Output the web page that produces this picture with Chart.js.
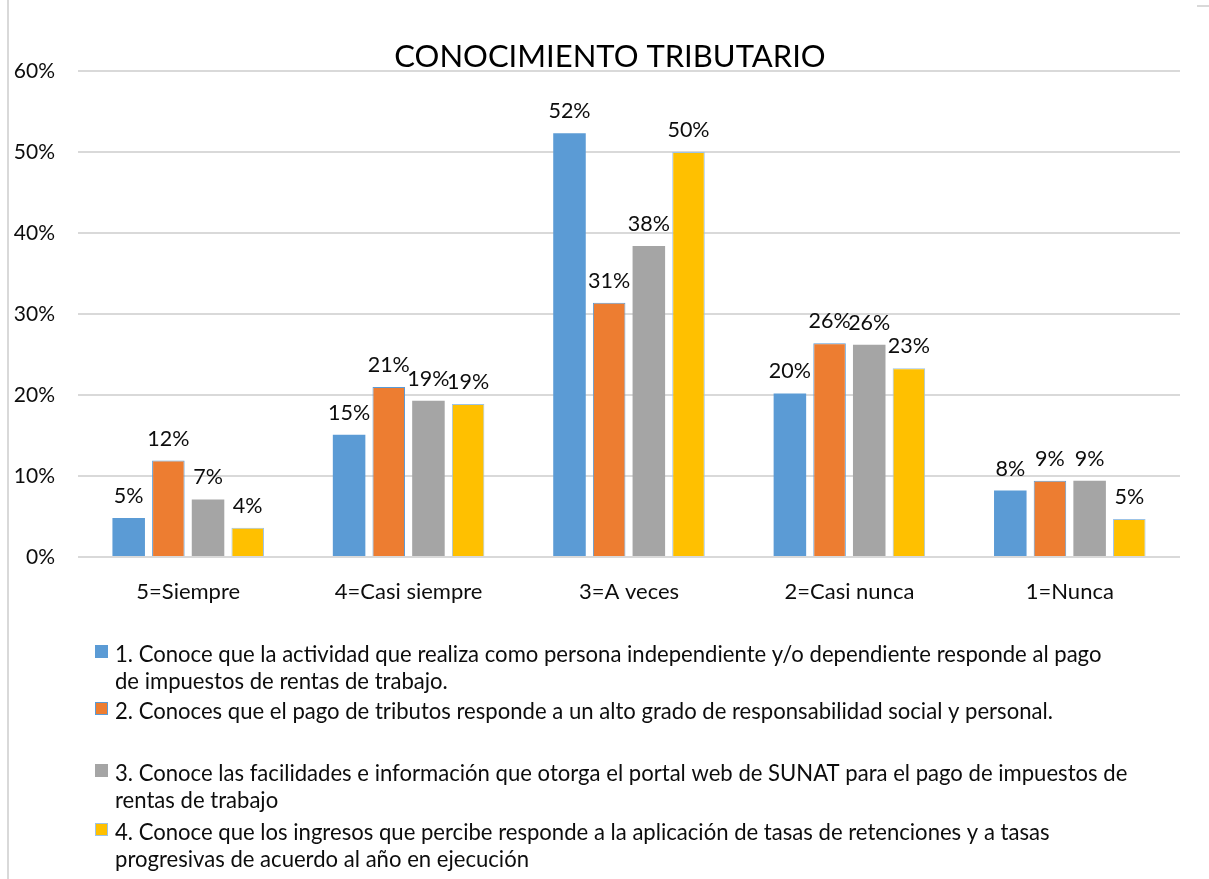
<!DOCTYPE html>
<html><head><meta charset="utf-8">
<script src="https://cdn.jsdelivr.net/npm/chart.js@4.4.1/dist/chart.umd.min.js"></script>
<style>
html,body{margin:0;padding:0;background:#fff;}
#wrap{position:relative;width:1209px;height:879px;overflow:hidden;}
#frameL{position:absolute;left:7px;top:0;width:2px;height:879px;background:#D9D9D9;}
#frameT{position:absolute;left:1197px;top:5px;width:12px;height:2px;background:#D9D9D9;}
canvas{position:absolute;left:0;top:0;}
</style></head><body>
<div id="wrap"><canvas id="c" width="1209" height="879"></canvas><div id="frameL"></div><div id="frameT"></div></div>
<script>
const chartTitle = 'CONOCIMIENTO TRIBUTARIO';
const categories = ['5=Siempre', '4=Casi siempre', '3=A veces', '2=Casi nunca', '1=Nunca'];
const serie1 = [4.8, 15.1, 52.3, 20.2, 8.2];
const serie2 = [11.9, 21.0, 31.4, 26.4, 9.4];
const serie3 = [7.1, 19.3, 38.4, 26.2, 9.4];
const serie4 = [3.6, 18.9, 50.0, 23.3, 4.7];
const seriesNames = [
  ['1. Conoce que la actividad que realiza como persona independiente y/o dependiente responde al pago', 'de impuestos de rentas de trabajo.'],
  ['2. Conoces que el pago de tributos responde a un alto grado de responsabilidad social y personal.'],
  ['3. Conoce las facilidades e información que otorga el portal web de SUNAT para el pago de impuestos de', 'rentas de trabajo'],
  ['4. Conoce que los ingresos que percibe responde a la aplicación de tasas de retenciones y a tasas', 'progresivas de acuerdo al año en ejecución']
];
const yTickValues = [0, 10, 20, 30, 40, 50, 60];

const colors = ['#5B9BD5', '#ED7D31', '#A5A5A5', '#FFC000'];
const borders = [null, '#5B9BD5', null, '#9DC3E6'];
const FONT = 'Lato, "Liberation Sans", Arial, sans-serif';
const TEXT = '#0d0d0d';

const titlePlugin = {
  id: 'fixedTitle',
  afterDraw(chart) {
    const ctx = chart.ctx;
    ctx.save();
    ctx.font = '31px ' + FONT;
    ctx.fillStyle = '#000';
    ctx.textAlign = 'center';
    ctx.textBaseline = 'alphabetic';
    ctx.fillText(chartTitle, 610, 67);
    ctx.restore();
  }
};

const dataLabelPlugin = {
  id: 'valueLabels',
  afterDatasetsDraw(chart) {
    const ctx = chart.ctx;
    ctx.save();
    ctx.font = '21.5px ' + FONT;
    ctx.fillStyle = TEXT;
    ctx.textAlign = 'center';
    ctx.textBaseline = 'alphabetic';
    chart.data.datasets.forEach((ds, i) => {
      chart.getDatasetMeta(i).data.forEach((el, j) => {
        ctx.fillText(Math.round(ds.data[j]) + '%', el.x, el.y - 15);
      });
    });
    ctx.restore();
  }
};

const legendBaselines = [662, 719, 781, 840];
const legendPlugin = {
  id: 'wrappedLegend',
  afterDraw(chart) {
    const ctx = chart.ctx;
    ctx.save();
    ctx.font = '22.1px ' + FONT;
    ctx.textAlign = 'left';
    ctx.textBaseline = 'alphabetic';
    chart.data.datasets.forEach((ds, i) => {
      const yb = legendBaselines[i];
      ctx.fillStyle = ds.backgroundColor;
      ctx.fillRect(95, yb - 17, 13, 13);
      if (borders[i]) {
        ctx.strokeStyle = borders[i];
        ctx.lineWidth = 1;
        ctx.strokeRect(95.5, yb - 16.5, 12, 12);
      }
      ctx.fillStyle = TEXT;
      ds.label.forEach((line, k) => ctx.fillText(line, 115, yb + k * 27));
    });
    ctx.restore();
  }
};

const allSeries = [serie1, serie2, serie3, serie4];
new Chart(document.getElementById('c'), {
  type: 'bar',
  data: {
    labels: categories,
    datasets: allSeries.map((s, i) => ({
      label: seriesNames[i],
      data: s,
      backgroundColor: colors[i],
      borderColor: borders[i] || colors[i],
      borderWidth: borders[i] ? 1 : 0,
      categoryPercentage: 0.72,
      barPercentage: 0.82
    }))
  },
  options: {
    responsive: false,
    animation: false,
    devicePixelRatio: 1,
    layout: { padding: { left: 10, right: 29, top: 71, bottom: 262 } },
    plugins: { legend: { display: false }, title: { display: false }, tooltip: { enabled: false } },
    scales: {
      x: {
        grid: { display: false, drawTicks: false },
        border: { display: false },
        ticks: { font: { family: FONT, size: 22 }, color: TEXT, padding: 22 },
        afterFit(s) { s.height = 60; }
      },
      y: {
        min: 0, max: 60,
        afterBuildTicks(s) { s.ticks = yTickValues.map(v => ({ value: v })); },
        grid: { color: '#D9D9D9', lineWidth: 2, drawTicks: false },
        border: { display: false },
        ticks: { font: { family: FONT, size: 21 }, color: TEXT, padding: 23, callback: v => v + '%' },
        afterFit(s) { s.width = 68; }
      }
    }
  },
  plugins: [titlePlugin, dataLabelPlugin, legendPlugin]
});
</script>
</body></html>
